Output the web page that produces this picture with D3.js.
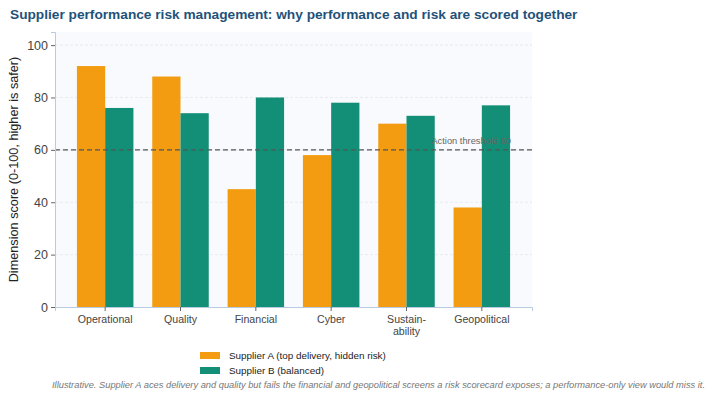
<!DOCTYPE html>
<html>
<head>
<meta charset="utf-8">
<script src="https://cdn.jsdelivr.net/npm/d3@7"></script>
<style>
  body { margin: 0; background: #fff; font-family: "Liberation Sans", Arial, sans-serif; }
</style>
</head>
<body>
<div id="chart"></div>
<script>
// --- data ---
const categories = ["Operational", "Quality", "Financial", "Cyber", "Sustain-\nability", "Geopolitical"];
const seriesNames = ["Supplier A (top delivery, hidden risk)", "Supplier B (balanced)"];
const supplierA = [92, 88, 45, 58, 70, 38];
const supplierB = [76, 74, 80, 78, 73, 77];
const yTicks = [0, 20, 40, 60, 80, 100];
const threshold = 60;

const W = 712, H = 400;
const plot = { left: 55, right: 532, top: 32, bottom: 307 };

const svg = d3.select("#chart").append("svg")
  .attr("width", W).attr("height", H);

const color = d3.scaleOrdinal().domain(seriesNames).range(["#f39c12", "#148f77"]);

const x0 = d3.scaleBand().domain(categories).range([plot.left, plot.right])
  .paddingInner(0).paddingOuter(0.166);
const x1 = d3.scaleBand().domain(seriesNames)
  .range([x0.bandwidth() * 0.125, x0.bandwidth() * 0.875]);
const y = d3.scaleLinear().domain([0, 105]).range([plot.bottom, plot.top]);

// background
svg.append("rect")
  .attr("x", plot.left).attr("y", plot.top)
  .attr("width", plot.right - plot.left).attr("height", plot.bottom - plot.top)
  .attr("fill", "#f8fafd");

// grid
svg.append("g").selectAll("line")
  .data(yTicks.filter(d => d > 0))
  .join("line")
  .attr("x1", plot.left).attr("x2", plot.right)
  .attr("y1", d => y(d)).attr("y2", d => y(d))
  .attr("stroke", "#e3e7ee").attr("stroke-width", 0.8)
  .attr("stroke-dasharray", "3,2");

// bars
const rows = categories.map((c, i) => ({ cat: c, vals: [supplierA[i], supplierB[i]] }));
svg.append("g").selectAll("g")
  .data(rows)
  .join("g")
  .attr("transform", d => `translate(${x0(d.cat)},0)`)
  .selectAll("rect")
  .data(d => seriesNames.map((s, j) => ({ key: s, value: d.vals[j] })))
  .join("rect")
  .attr("x", d => x1(d.key))
  .attr("width", x1.bandwidth())
  .attr("y", d => y(d.value))
  .attr("height", d => y(0) - y(d.value))
  .attr("fill", d => color(d.key));

// threshold
svg.append("line")
  .attr("x1", plot.left).attr("x2", plot.right)
  .attr("y1", y(threshold)).attr("y2", y(threshold))
  .attr("stroke", "#555").attr("stroke-width", 1.2)
  .attr("stroke-dasharray", "5,3");
svg.append("text")
  .attr("x", plot.right - 21).attr("y", y(threshold) - 6)
  .attr("text-anchor", "end")
  .attr("font-size", "9.3px").attr("fill", "#666")
  .text("Action threshold 60");

// axes
const yAxis = svg.append("g")
  .attr("transform", `translate(${plot.left},0)`)
  .call(d3.axisLeft(y).tickValues(yTicks).tickSize(4).tickPadding(3));
yAxis.select(".domain").attr("stroke", "#b9cbe3");
yAxis.selectAll(".tick line").attr("stroke", "#666");
yAxis.selectAll("text").attr("font-size", "12.5px").attr("fill", "#444")
  .attr("font-family", "Liberation Sans, Arial, sans-serif");

const xAxis = svg.append("g")
  .attr("transform", `translate(0,${plot.bottom})`)
  .call(d3.axisBottom(x0).tickSize(4).tickPadding(4).tickFormat(""));
xAxis.select(".domain").attr("stroke", "#b9cbe3");
xAxis.selectAll(".tick line").attr("stroke", "#666");
xAxis.selectAll(".tick").append("text")
  .attr("fill", "#444").attr("font-size", "10.6px")
  .attr("font-family", "Liberation Sans, Arial, sans-serif")
  .attr("text-anchor", "middle")
  .selectAll("tspan")
  .data(d => d.split("\n"))
  .join("tspan")
  .attr("x", 0)
  .attr("y", (d, i) => 16 + i * 12)
  .text(d => d);

// y label
svg.append("text")
  .attr("transform", `translate(18,${(plot.top + plot.bottom) / 2}) rotate(-90)`)
  .attr("text-anchor", "middle")
  .attr("font-size", "12.7px").attr("fill", "#222")
  .text("Dimension score (0-100, higher is safer)");

// title
svg.append("text")
  .attr("x", 10).attr("y", 19)
  .attr("font-size", "13.7px").attr("font-weight", "bold").attr("fill", "#1f5279")
  .text("Supplier performance risk management: why performance and risk are scored together");

// legend
const legend = svg.append("g").attr("transform", "translate(200,352)");
seriesNames.forEach((s, i) => {
  legend.append("rect")
    .attr("x", 0).attr("y", i * 15)
    .attr("width", 20).attr("height", 7)
    .attr("fill", color(s));
  legend.append("text")
    .attr("x", 29).attr("y", i * 15 + 7)
    .attr("font-size", "9.9px").attr("fill", "#222")
    .text(s);
});

// footnote
svg.append("text")
  .attr("x", 705).attr("y", 388)
  .attr("text-anchor", "end")
  .attr("font-size", "9.3px").attr("font-style", "italic").attr("fill", "#777")
  .text("Illustrative. Supplier A aces delivery and quality but fails the financial and geopolitical screens a risk scorecard exposes; a performance-only view would miss it.");
</script>
</body>
</html>
